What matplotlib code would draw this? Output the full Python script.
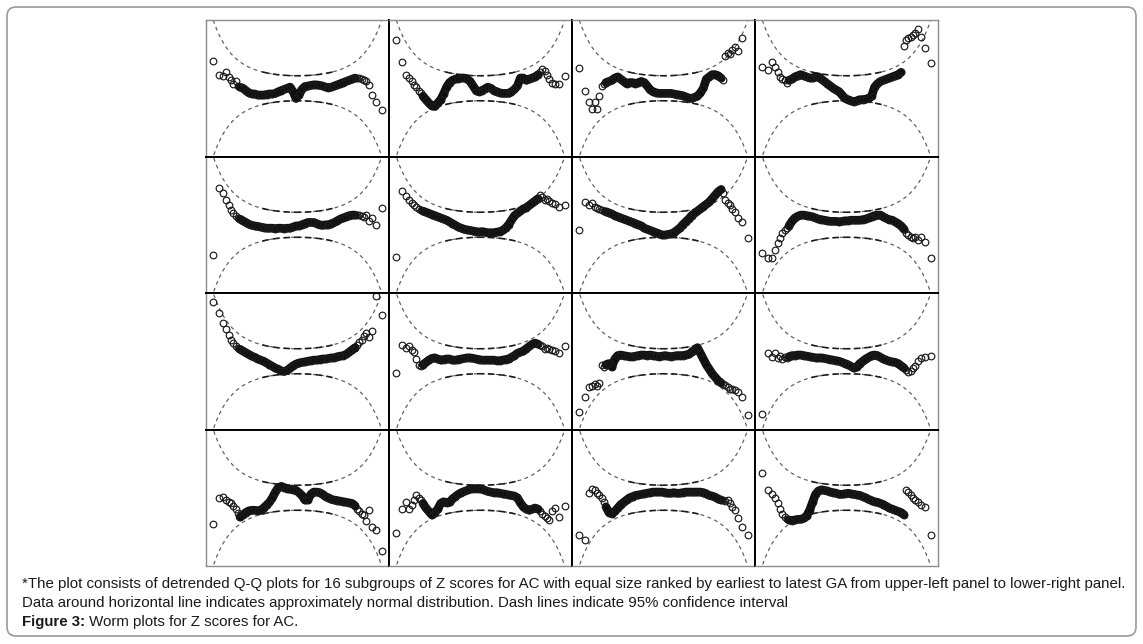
import math
import numpy as np
import matplotlib
matplotlib.use("Agg")
import matplotlib.pyplot as plt
from matplotlib.patches import FancyBboxPatch

# ---------------- data ----------------
N_SUB = 500          # subgroup size (equal size groups)
CI_LEVEL_Z = 1.96    # 95% confidence

# unit normal quantiles (shared by all panels, same subgroup size)
Z = [-2.87, -2.66, -2.53, -2.42, -2.32, -2.24, -2.17, -2.10, -2.03,
     -1.95, -1.85, -1.75, -1.65, -1.55, -1.45, -1.35, -1.25, -1.15, -1.05,
     -0.95, -0.85, -0.75, -0.65, -0.55, -0.45, -0.35, -0.25, -0.15, -0.05,
     0.05, 0.15, 0.25, 0.35, 0.45, 0.55, 0.65, 0.75, 0.85, 0.95,
     1.05, 1.15, 1.25, 1.35, 1.45, 1.55, 1.65, 1.75, 1.85, 1.95,
     2.03, 2.10, 2.17, 2.24, 2.32, 2.42, 2.53, 2.66, 2.87]
DENSE = (9, 49)      # index range of the dense central part of each worm

# deviations (detrended Q-Q), one list per panel, upper-left to lower-right
dev_01 = [0.24, 0.12, 0.11, 0.14, 0.10, 0.07, 0.04, 0.06, 0.02,
          0.01, 0.0, -0.02, -0.04, -0.05, -0.05, -0.06, -0.06, -0.06, -0.055,
          -0.05, -0.05, -0.045, -0.03, -0.02, -0.01, 0.0, 0.01, -0.03, -0.09,
          -0.06, -0.01, 0.015, 0.02, 0.025, 0.03, 0.03, 0.025, 0.02, 0.01,
          0.005, 0.01, 0.02, 0.03, 0.04, 0.05, 0.06, 0.07, 0.08, 0.09,
          0.09, 0.09, 0.08, 0.07, 0.06, 0.03, -0.06, -0.12, -0.19]
dev_02 = [0.42, 0.23, 0.12, 0.09, 0.06, 0.03, 0.01, -0.02, -0.045,
          -0.07, -0.10, -0.13, -0.155, -0.16, -0.13, -0.10, -0.05, 0.01, 0.05,
          0.07, 0.08, 0.085, 0.09, 0.09, 0.08, 0.06, 0.02, -0.02, -0.03,
          -0.02, -0.005, 0.01, 0.0, -0.02, -0.03, -0.04, -0.045, -0.045, -0.045,
          -0.03, -0.01, 0.02, 0.09, 0.09, 0.07, 0.08, 0.09, 0.10, 0.12,
          0.145, 0.17, 0.15, 0.12, 0.08, 0.05, 0.04, 0.035, 0.11]
dev_03 = [0.18, -0.025, -0.12, -0.18, -0.125, -0.18, -0.065, 0.02, 0.04,
          0.05, 0.06, 0.07, 0.09, 0.10, 0.08, 0.06, 0.04, 0.05, 0.05,
          0.04, 0.05, 0.06, 0.05, 0.02, -0.015, -0.03, -0.04, -0.045, -0.045,
          -0.045, -0.045, -0.045, -0.05, -0.055, -0.06, -0.065, -0.075, -0.085, -0.09,
          -0.08, -0.07, -0.04, 0.0, 0.08, 0.10, 0.12, 0.12, 0.11, 0.09,
          0.07, 0.28, 0.31, 0.30, 0.34, 0.36, 0.33, 0.44, 0.70]
dev_04 = [0.19, 0.16, 0.23, 0.19, 0.145, 0.10, 0.08, 0.07, 0.05,
          0.07, 0.08, 0.10, 0.11, 0.12, 0.11, 0.10, 0.09, 0.09, 0.10,
          0.10, 0.08, 0.06, 0.04, 0.02, 0.0, -0.015, -0.03, -0.06, -0.09,
          -0.10, -0.11, -0.12, -0.11, -0.10, -0.10, -0.095, -0.09, -0.07, 0.01,
          0.04, 0.06, 0.07, 0.08, 0.09, 0.10, 0.11, 0.12, 0.14, 0.37,
          0.42, 0.44, 0.45, 0.47, 0.49, 0.52, 0.45, 0.35, 0.22]
dev_05 = [-0.27, 0.32, 0.28, 0.22, 0.17, 0.13, 0.10, 0.08, 0.06,
          0.05, 0.035, 0.02, 0.005, -0.005, -0.01, -0.015, -0.02, -0.025, -0.03,
          -0.03, -0.03, -0.035, -0.03, -0.03, -0.035, -0.03, -0.03, -0.02, -0.01,
          -0.01, 0.0, 0.01, 0.02, 0.02, 0.02, 0.01, 0.0, -0.005, 0.0,
          0.0, 0.01, 0.02, 0.035, 0.05, 0.06, 0.07, 0.08, 0.085, 0.085,
          0.085, 0.09, 0.08, 0.07, 0.09, 0.03, 0.06, 0.0, 0.15]
dev_06 = [-0.285, 0.30, 0.25, 0.22, 0.19, 0.17, 0.155, 0.14, 0.13,
          0.12, 0.11, 0.10, 0.09, 0.08, 0.07, 0.06, 0.05, 0.04, 0.025,
          0.01, -0.005, -0.02, -0.03, -0.04, -0.045, -0.05, -0.055, -0.06, -0.065,
          -0.06, -0.065, -0.07, -0.07, -0.07, -0.065, -0.06, -0.05, -0.03, 0.0,
          0.04, 0.08, 0.10, 0.12, 0.14, 0.15, 0.17, 0.19, 0.21, 0.23,
          0.26, 0.24, 0.22, 0.23, 0.21, 0.19, 0.18, 0.16, 0.17]
dev_07 = [-0.05, 0.20, 0.17, 0.19, 0.16, 0.15, 0.14, 0.13, 0.12,
          0.115, 0.105, 0.095, 0.08, 0.07, 0.06, 0.05, 0.04, 0.03, 0.02,
          0.01, 0.0, -0.01, -0.03, -0.04, -0.05, -0.06, -0.07, -0.08, -0.09,
          -0.09, -0.085, -0.08, -0.07, -0.05, -0.03, 0.0, 0.025, 0.05, 0.08,
          0.10, 0.12, 0.14, 0.16, 0.18, 0.20, 0.23, 0.26, 0.29, 0.31,
          0.28, 0.22, 0.19, 0.17, 0.14, 0.11, 0.06, 0.02, -0.12]
dev_08 = [-0.25, -0.29, -0.29, -0.22, -0.16, -0.12, -0.07, -0.05, -0.03,
          -0.01, 0.03, 0.06, 0.075, 0.085, 0.085, 0.08, 0.075, 0.07, 0.06,
          0.05, 0.045, 0.04, 0.035, 0.03, 0.03, 0.03, 0.025, 0.03, 0.035,
          0.035, 0.04, 0.04, 0.04, 0.04, 0.045, 0.05, 0.06, 0.07, 0.08,
          0.085, 0.085, 0.07, 0.055, 0.045, 0.04, 0.025, 0.01, -0.01, -0.04,
          -0.07, -0.09, -0.11, -0.12, -0.11, -0.13, -0.11, -0.15, -0.29]
dev_09 = [0.52, 0.42, 0.34, 0.28, 0.23, 0.19, 0.16, 0.13, 0.115,
          0.105, 0.09, 0.075, 0.06, 0.045, 0.035, 0.02, 0.01, 0.0, -0.015,
          -0.03, -0.045, -0.06, -0.07, -0.085, -0.09, -0.08, -0.06, -0.04, -0.025,
          -0.015, -0.01, -0.005, 0.0, 0.005, 0.01, 0.01, 0.015, 0.02, 0.02,
          0.025, 0.03, 0.03, 0.04, 0.045, 0.05, 0.06, 0.08, 0.10, 0.12,
          0.14, 0.17, 0.19, 0.22, 0.25, 0.21, 0.27, 0.57, 0.41]
dev_10 = [-0.10, 0.14, 0.12, 0.13, 0.10, 0.08, 0.02, -0.03, -0.04,
          -0.03, -0.01, 0.01, 0.025, 0.03, 0.02, 0.01, 0.015, 0.02, 0.02,
          0.01, 0.01, 0.015, 0.02, 0.025, 0.03, 0.03, 0.025, 0.02, 0.015,
          0.01, 0.01, 0.01, 0.01, 0.01, 0.005, 0.005, 0.01, 0.015, 0.02,
          0.035, 0.05, 0.07, 0.08, 0.09, 0.11, 0.13, 0.15, 0.16, 0.15,
          0.14, 0.13, 0.11, 0.12, 0.11, 0.10, 0.09, 0.07, 0.13]
dev_11 = [-0.45, -0.31, -0.23, -0.22, -0.20, -0.22, -0.19, -0.03, -0.05,
          -0.03, -0.02, -0.05, 0.02, 0.05, 0.055, 0.05, 0.045, 0.04, 0.04,
          0.045, 0.05, 0.055, 0.055, 0.05, 0.055, 0.05, 0.045, 0.04, 0.045,
          0.05, 0.045, 0.04, 0.045, 0.05, 0.05, 0.05, 0.055, 0.06, 0.08,
          0.10, 0.12, 0.07, 0.02, -0.03, -0.07, -0.11, -0.14, -0.17, -0.19,
          -0.20, -0.21, -0.23, -0.24, -0.24, -0.25, -0.27, -0.31, -0.47]
dev_12 = [-0.46, 0.07, 0.04, 0.07, 0.03, 0.05, 0.02, 0.04, 0.03,
          0.04, 0.05, 0.05, 0.055, 0.055, 0.05, 0.045, 0.04, 0.035, 0.03,
          0.03, 0.03, 0.025, 0.02, 0.015, 0.01, 0.005, 0.0, -0.01, -0.02,
          -0.03, -0.045, -0.06, -0.05, -0.02, 0.0, 0.02, 0.035, 0.05, 0.055,
          0.05, 0.035, 0.02, 0.01, 0.0, -0.005, -0.01, -0.02, -0.04, -0.06,
          -0.08, -0.095, -0.09, -0.06, -0.04, 0.0, 0.03, 0.04, 0.05]
dev_13 = [-0.235, -0.005, 0.005, -0.02, -0.035, -0.05, -0.07, -0.10, -0.13,
          -0.17, -0.15, -0.13, -0.115, -0.11, -0.11, -0.115, -0.11, -0.09, -0.065,
          -0.04, 0.0, 0.05, 0.09, 0.10, 0.09, 0.08, 0.075, 0.07, 0.065,
          0.045, 0.02, -0.02, -0.02, 0.03, 0.05, 0.05, 0.045, 0.03, 0.01,
          0.0, -0.015, -0.02, -0.025, -0.03, -0.035, -0.04, -0.045, -0.05, -0.07,
          -0.10, -0.12, -0.14, -0.15, -0.20, -0.11, -0.26, -0.28, -0.47]
dev_14 = [-0.31, -0.10, -0.04, -0.10, -0.065, -0.02, 0.025, 0.0, -0.02,
          -0.05, -0.09, -0.12, -0.15, -0.13, -0.10, -0.05, -0.035, -0.045, -0.04,
          -0.01, 0.01, 0.03, 0.045, 0.055, 0.065, 0.075, 0.08, 0.08, 0.08,
          0.075, 0.065, 0.055, 0.05, 0.045, 0.045, 0.04, 0.035, 0.03, 0.025,
          0.02, 0.015, 0.0, -0.045, -0.08, -0.10, -0.11, -0.10, -0.09, -0.10,
          -0.12, -0.14, -0.16, -0.18, -0.195, -0.12, -0.09, -0.165, -0.07]
dev_15 = [-0.33, -0.37, 0.04, 0.08, 0.07, 0.04, 0.02, 0.0, -0.04,
          -0.08, -0.13, -0.14, -0.12, -0.09, -0.06, -0.04, -0.02, 0.0, 0.01,
          0.02, 0.025, 0.03, 0.035, 0.04, 0.045, 0.05, 0.05, 0.05, 0.05,
          0.045, 0.04, 0.04, 0.045, 0.04, 0.04, 0.045, 0.05, 0.05, 0.05,
          0.05, 0.05, 0.05, 0.045, 0.035, 0.02, 0.015, 0.005, -0.01, -0.02,
          -0.02, -0.03, -0.02, -0.05, -0.08, -0.11, -0.18, -0.26, -0.33]
dev_16 = [0.22, 0.07, 0.03, 0.0, -0.05, -0.10, -0.14, -0.17, -0.19,
          -0.195, -0.20, -0.195, -0.19, -0.19, -0.18, -0.16, -0.11, -0.04, 0.03,
          0.06, 0.07, 0.065, 0.06, 0.05, 0.045, 0.04, 0.03, 0.03, 0.035,
          0.04, 0.035, 0.03, 0.025, 0.02, 0.01, 0.0, -0.015, -0.025, -0.035,
          -0.04, -0.05, -0.06, -0.075, -0.09, -0.10, -0.11, -0.12, -0.13, -0.15,
          0.07, 0.05, 0.025, 0.0, -0.02, -0.04, -0.06, -0.08, -0.33]

panels = [dev_01, dev_02, dev_03, dev_04, dev_05, dev_06, dev_07, dev_08,
          dev_09, dev_10, dev_11, dev_12, dev_13, dev_14, dev_15, dev_16]

caption_1 = ("*The plot consists of detrended Q-Q plots for 16 subgroups of Z scores for AC "
             "with equal size ranked by earliest to latest GA from upper-left panel to lower-right panel.")
caption_2 = ("Data around horizontal line indicates approximately normal distribution. "
             "Dash lines indicate 95% confidence interval")
caption_bold = "Figure 3:"
caption_3 = " Worm plots for Z scores for AC."

# ---------------- figure ----------------
W, H = 1143, 644
fig = plt.figure(figsize=(W / 100, H / 100), dpi=100)
fig.patch.set_facecolor("white")

bg = fig.add_axes([0, 0, 1, 1])
bg.set_xlim(0, W)
bg.set_ylim(H, 0)
bg.axis("off")
bg.add_patch(FancyBboxPatch((7, 7), 1129, 629,
                            boxstyle="round,pad=0,rounding_size=9",
                            fc="white", ec="#9a9a9a", lw=1.2))

# 95% CI band of the worm plot
zg = np.linspace(-3.1, 3.1, 700)
pg = 0.5 * (1 + np.array([math.erf(v / math.sqrt(2)) for v in zg]))
dn = np.exp(-zg ** 2 / 2) / math.sqrt(2 * math.pi)
ci = CI_LEVEL_Z * np.sqrt(pg * (1 - pg) / N_SUB) / dn
mid = np.abs(zg) <= 1.2

Za = np.array(Z)
GRID_L, GRID_T, PW, PH = 206, 20, 183, 136.5
for k, yv in enumerate(panels):
    yv = np.array(yv, dtype=float)
    r, c = divmod(k, 4)
    left = (GRID_L + c * PW) / W
    bottom = 1 - (GRID_T + (r + 1) * PH) / H
    ax = fig.add_axes([left, bottom, PW / W, PH / H])
    ax.set_xlim(-3.1, 3.1)
    ax.set_ylim(-0.6, 0.6)
    ax.set_xticks([])
    ax.set_yticks([])
    for sgn in (1, -1):
        ax.plot(zg, sgn * ci, color="#5a5a5a", lw=0.85, dashes=(3.2, 3))
        ax.plot(zg[mid], sgn * ci[mid], color="#1a1a1a", lw=1.15, dashes=(4.2, 2.5))
    # dense central body of the worm (overlapping points)
    a, b = DENSE
    zd, yd = Za[a:b].copy(), yv[a:b].copy()
    jump = np.abs(np.diff(yd)) > 0.12
    zl, yl = [], []
    for i in range(len(zd)):
        zl.append(zd[i]); yl.append(yd[i])
        if i < len(jump) and jump[i]:
            zl.append(np.nan); yl.append(np.nan)
    ax.plot(zl, yl, color="#0d0d0d", lw=6.2, solid_capstyle="round",
            solid_joinstyle="round")
    ax.plot(Za, yv, "o", mfc="none", mec="#1a1a1a", ms=4.8, mew=0.85)
    outer = {"top": r == 0, "bottom": r == 3, "left": c == 0, "right": c == 3}
    for side, sp in ax.spines.items():
        if outer[side]:
            sp.set_color("#8a8a8a")
            sp.set_linewidth(1.0)
        else:
            sp.set_color("#000000")
            sp.set_linewidth(1.4)

font = dict(family=["Liberation Sans", "DejaVu Sans"], fontsize=10.8, color="#1a1a1a")
bg.text(22, 588, caption_1, va="baseline", ha="left", **font)
bg.text(22, 607, caption_2, va="baseline", ha="left", **font)
tb = bg.text(22, 626, caption_bold, va="baseline", ha="left", weight="bold", **font)
bg.annotate(caption_3, xy=(1, 0), xycoords=tb, va="bottom", ha="left", **font)

fig.savefig("out.png", dpi=100)
